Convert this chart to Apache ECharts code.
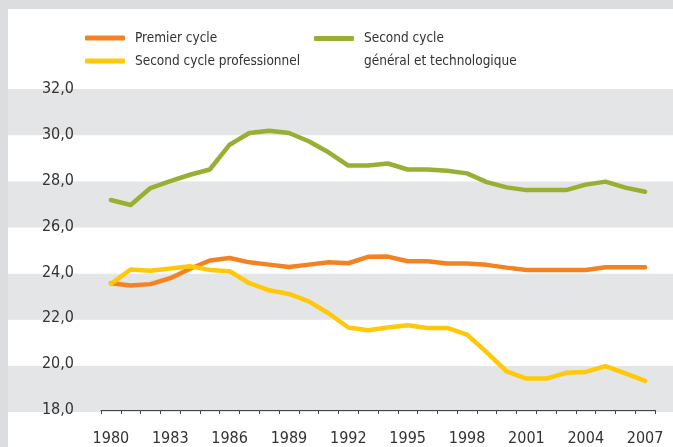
<!DOCTYPE html>
<html>
<head>
<meta charset="utf-8">
<script src="https://cdn.jsdelivr.net/npm/echarts@6/dist/echarts.min.js"></script>
<style>
  html, body { margin:0; padding:0; background:#dcdddf; width:673px; height:447px; overflow:hidden; }
  #chart { position:absolute; left:8px; top:9px; width:665px; height:438px; background:#ffffff; }
</style>
</head>
<body>
<div id="chart"></div>
<script>
const years = ['1980','1981','1982','1983','1984','1985','1986','1987','1988','1989','1990','1991','1992','1993','1994','1995','1996','1997','1998','1999','2000','2001','2002','2003','2004','2005','2006','2007'];
const premierCycle = [23.53,23.43,23.49,23.75,24.16,24.52,24.63,24.44,24.34,24.24,24.34,24.44,24.40,24.68,24.69,24.49,24.49,24.39,24.39,24.33,24.21,24.11,24.11,24.11,24.11,24.23,24.23,24.23];
const secondPro = [23.50,24.13,24.07,24.17,24.27,24.11,24.05,23.53,23.22,23.06,22.74,22.22,21.60,21.48,21.60,21.70,21.58,21.58,21.29,20.51,19.68,19.37,19.37,19.62,19.66,19.91,19.60,19.27];
const secondGT = [27.16,26.94,27.68,27.98,28.26,28.49,29.57,30.08,30.18,30.08,29.72,29.24,28.66,28.66,28.75,28.49,28.49,28.43,28.32,27.94,27.71,27.59,27.59,27.59,27.83,27.96,27.70,27.52];
const yTicks = {min:18, max:32, interval:2};
const names = ['Premier cycle','Second cycle professionnel','Second cycle\ngénéral et technologique'];

const FONT = '"Liberation Sans Narrow","DejaVu Sans Condensed",sans-serif';
const colors = ['#f58220','#ffc90a','#97b034'];

const chart = echarts.init(document.getElementById('chart'), null, {renderer:'canvas'});
const mkSeries = (name, data, color) => ({
  name, type:'line', data, xAxisIndex:0, yAxisIndex:0,
  symbol:'none', smooth:false, color,
  lineStyle:{width:4.5, color, cap:'round', join:'round'},
  emphasis:{disabled:true}, z:5
});
chart.setOption({
  animation:false,
  grid:[
    {left:93, right:18, top:80, bottom:35},
    {left:0, right:0, top:80, bottom:35}
  ],
  legend:[
    {data:[names[0], names[1]], orient:'vertical', left:77, top:19, padding:0,
     itemWidth:40, itemHeight:5, itemGap:3, icon:'roundRect',
     textStyle:{fontFamily:FONT, fontSize:13.5, color:'#333', lineHeight:20, padding:[0,0,0,5]}},
    {data:[names[2]], orient:'vertical', left:306, top:-5, padding:0,
     itemWidth:40, itemHeight:5, icon:'roundRect',
     formatter: n => '\n' + n,
     textStyle:{fontFamily:FONT, fontSize:13.5, color:'#333', lineHeight:23, padding:[0,0,0,5]}}
  ],
  xAxis:[
    {type:'category', gridIndex:0, data:years, boundaryGap:true,
     axisLine:{show:true, lineStyle:{color:'#444', width:1}},
     axisTick:{show:true, alignWithLabel:false, interval:0, length:4, lineStyle:{color:'#444'}},
     axisLabel:{interval:2, margin:21, fontFamily:FONT, fontSize:16, color:'#333'},
     splitLine:{show:false}},
    {type:'value', gridIndex:1, show:false, min:0, max:1}
  ],
  yAxis:[
    {type:'value', gridIndex:0, min:yTicks.min, max:yTicks.max, interval:yTicks.interval,
     axisLine:{show:false}, axisTick:{show:false}, splitLine:{show:false},
     axisLabel:{margin:27, fontFamily:FONT, fontSize:16, color:'#333',
       formatter:v => v.toFixed(1).replace('.', ',')}},
    {type:'value', gridIndex:1, min:yTicks.min, max:yTicks.max, interval:yTicks.interval,
     axisLine:{show:false}, axisTick:{show:false}, axisLabel:{show:false}, splitLine:{show:false},
     splitArea:{show:true, areaStyle:{color:['#e4e5e7','#ffffff']}}, z:0}
  ],
  series:[
    mkSeries(names[0], premierCycle, colors[0]),
    mkSeries(names[1], secondPro, colors[1]),
    mkSeries(names[2], secondGT, colors[2])
  ]
});
</script>
</body>
</html>
